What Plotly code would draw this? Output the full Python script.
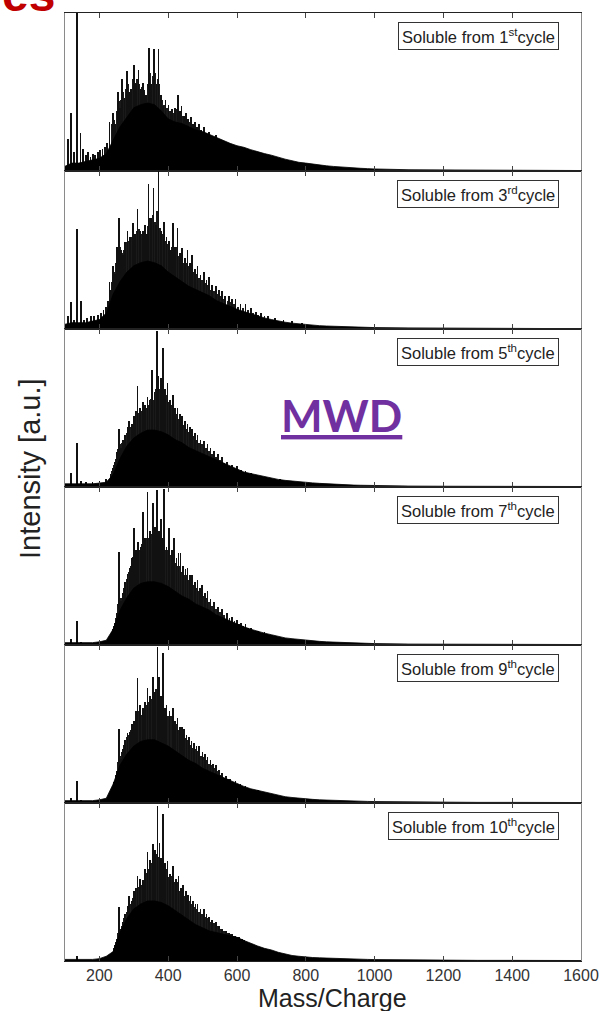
import plotly.graph_objects as go
from plotly.subplots import make_subplots

# ---------------- data ----------------
ENV_MZ = [100, 120, 140, 160, 180, 200, 220, 240, 260, 280, 300, 320, 340, 360, 380,
          400, 420, 440, 460, 480, 500, 520, 540, 560, 580, 600, 620, 640, 660, 680,
          700, 720, 740, 760, 780, 800, 820, 840, 860, 880, 900, 920, 940, 960, 980,
          1000, 1100, 1200, 1300, 1400, 1500, 1600]

ENV_1 = [3, 5, 5, 6, 7, 8, 11, 20, 28, 34, 40, 42, 43, 42, 38,
         33, 31, 30, 28, 26, 25, 23, 21, 19, 17.5, 16, 15, 13.5, 12, 11,
         10, 8.5, 7.5, 6.5, 5.5, 5, 4.3, 3.8, 3.3, 2.9, 2.5, 2.2, 1.9, 1.7, 1.5,
         1.3, 0.8, 0.6, 0.5, 0.4, 0.4, 0.3]
ENV_2 = [3, 4, 4, 4, 5, 6, 10, 22, 30, 36, 40, 42, 43, 42, 40,
         36, 33, 30, 27, 25, 23, 21, 18, 16, 14, 12.5, 11, 9.5, 8, 7,
         6, 5, 4.3, 3.7, 3.2, 2.8, 2.4, 2.1, 1.9, 1.7, 1.5, 1.3, 1.2, 1.1, 1.0,
         0.9, 0.7, 0.5, 0.4, 0.4, 0.3, 0.3]
ENV_3 = [2, 2, 2, 2, 2, 2.5, 3, 8, 18, 26, 31, 34, 36, 36, 35,
         33, 30, 28, 25, 23, 21, 19, 17, 15, 13, 11, 9.5, 8.5, 7.5, 6.5,
         5.5, 4.8, 4.2, 3.7, 3.3, 3, 2.6, 2.3, 2, 1.8, 1.6, 1.4, 1.2, 1.1, 1.0,
         0.9, 0.6, 0.5, 0.4, 0.4, 0.3, 0.3]
ENV_4 = [1.5, 1.5, 1.5, 1.5, 1.5, 2, 3, 10, 22, 30, 36, 39, 40, 40, 39,
         37, 34, 31, 29, 26, 24, 22, 19, 17, 15, 13, 11.5, 10, 8.5, 7.5,
         6.5, 5.5, 4.5, 4, 3.5, 3, 2.6, 2.3, 2, 1.8, 1.6, 1.4, 1.2, 1.1, 1.0,
         0.9, 0.6, 0.5, 0.4, 0.4, 0.3, 0.3]
ENV_5 = [1.5, 1.5, 1.5, 1.5, 1.5, 2, 3, 12, 24, 31, 36, 39, 40, 40, 38,
         36, 33, 30, 27, 25, 22, 20, 18, 16, 14, 12, 10.5, 9, 8, 7,
         6, 5, 4, 3.5, 3, 2.6, 2.3, 2, 1.8, 1.6, 1.4, 1.3, 1.2, 1.1, 1.0,
         0.9, 0.6, 0.5, 0.4, 0.4, 0.3, 0.3]
ENV_6 = [1, 1, 1, 1, 1, 1.5, 3, 6, 18, 27, 33, 36, 38, 38, 37,
         35, 32, 29, 26, 23, 21, 19, 18, 17, 16, 15, 13, 11, 9.5, 8,
         7, 5.5, 4.5, 3.5, 3, 2.5, 2.2, 2, 1.8, 1.6, 1.4, 1.3, 1.2, 1.1, 1.0,
         0.9, 0.6, 0.5, 0.4, 0.4, 0.3, 0.3]

# main (tall) peaks
PEAK_MZ_1 = [108, 118, 126, 134, 145, 152, 160, 167, 174, 181, 188, 195, 202, 209, 216, 223,
             229, 239, 246, 253, 260, 266, 273, 280, 287, 292, 301, 307, 314, 320, 326, 331,
             335, 345, 351, 359, 366, 372, 378, 384, 392, 401, 407, 412, 420, 429, 434, 439,
             445, 451, 458, 466, 472, 478, 484, 490, 497, 504, 511, 519, 527, 538, 547, 557,
             567, 577, 591, 606, 620, 634, 644, 660, 680, 700, 720, 745, 770, 800]
PEAK_H_1 = [20, 37, 12, 100, 24, 14, 10, 12, 9, 11, 10, 12, 13, 14, 15, 18,
            31, 37, 30, 50, 40, 58, 46, 63, 50, 52, 67, 55, 64, 52, 56, 50,
            48, 78, 55, 77, 55, 77, 48, 41, 45, 42, 38, 39, 40, 48, 38, 41,
            35, 37, 33, 34, 30, 31, 28, 30, 26, 28, 24, 25, 22, 23, 20, 19,
            17, 17, 15, 15, 13, 12, 12, 10, 9, 8, 7, 6, 5, 4]

PEAK_MZ_2 = [108, 118, 126, 134, 147, 155, 165, 175, 185, 195, 205, 212, 219, 225, 229, 234,
             239, 246, 251, 256, 262, 268, 275, 282, 289, 297, 304, 311, 318, 326, 333, 338,
             343, 350, 357, 364, 372, 380, 388, 395, 403, 408, 414, 420, 427, 434, 441, 448,
             456, 463, 470, 477, 485, 494, 504, 511, 519, 528, 538, 547, 557, 566, 577, 586,
             596, 610, 625, 640, 655, 670, 690, 710, 735, 760, 790]
PEAK_H_2 = [8, 17, 6, 63, 18, 6, 7, 8, 8, 9, 10, 12, 14, 18, 30, 25,
            40, 35, 52, 70, 50, 47, 55, 62, 58, 67, 60, 76, 62, 62, 66, 60,
            92, 70, 89, 66, 100, 62, 68, 58, 56, 50, 67, 52, 64, 48, 51, 45,
            50, 42, 47, 38, 40, 34, 36, 31, 33, 28, 27, 25, 24, 21, 21, 19,
            19, 16, 16, 13, 11, 10, 8, 7, 6, 5, 4]

PEAK_MZ_3 = [118, 134, 147, 160, 180, 200, 220, 232, 240, 246, 251, 256, 262, 268, 275, 282,
             287, 294, 300, 305, 311, 318, 326, 333, 340, 346, 353, 360, 367, 372, 378, 385,
             391, 398, 405, 413, 420, 427, 434, 441, 448, 456, 463, 470, 477, 485, 494, 504,
             514, 523, 533, 545, 557, 570, 586, 600, 612, 625, 640, 660, 680, 700, 725, 750, 780]
PEAK_H_3 = [9, 28, 4, 3, 3, 4, 5, 8, 12, 16, 22, 37, 25, 30, 33, 38,
            42, 40, 45, 48, 64, 50, 54, 52, 57, 55, 74, 60, 99, 70, 69, 88,
            62, 66, 55, 58, 50, 50, 46, 45, 42, 40, 38, 37, 34, 33, 30, 29,
            27, 25, 23, 21, 19, 16, 14, 13, 11, 10, 9, 7, 6, 5, 5, 4, 3]

PEAK_MZ_4 = [118, 134, 147, 230, 240, 246, 251, 256, 262, 268, 275, 282, 289, 295, 301, 307,
             313, 320, 326, 333, 340, 347, 355, 361, 367, 373, 378, 383, 388, 395, 403, 410,
             417, 424, 430, 436, 443, 450, 456, 463, 470, 477, 485, 492, 499, 506, 514, 523,
             533, 545, 557, 570, 586, 600, 612, 625, 640, 660, 680, 700, 725, 750, 780]
PEAK_H_4 = [4, 15, 2, 5, 10, 14, 20, 59, 28, 33, 40, 45, 49, 55, 74, 60,
            65, 62, 84, 68, 97, 72, 90, 75, 98, 72, 80, 68, 99, 62, 74, 60,
            68, 55, 58, 58, 50, 48, 49, 44, 44, 40, 41, 36, 38, 33, 34, 29,
            27, 24, 23, 20, 18, 16, 14, 13, 11, 9, 8, 6, 5, 4, 3]

PEAK_MZ_5 = [118, 134, 147, 230, 240, 246, 251, 256, 262, 268, 275, 282, 289, 295, 301, 306,
             311, 318, 326, 333, 340, 347, 355, 362, 369, 374, 380, 385, 390, 395, 404, 413,
             420, 427, 434, 441, 446, 453, 460, 468, 475, 482, 490, 500, 507, 514, 523, 530,
             538, 548, 557, 567, 580, 596, 610, 625, 640, 660, 680, 700, 725, 750]
PEAK_H_5 = [3, 14, 2, 5, 9, 14, 20, 47, 28, 34, 40, 44, 45, 50, 52, 58,
            79, 62, 60, 64, 73, 68, 80, 70, 99, 80, 68, 95, 60, 62, 58, 60,
            52, 54, 48, 48, 47, 43, 42, 39, 38, 36, 36, 32, 31, 29, 27, 25,
            24, 21, 19, 17, 15, 14, 12, 11, 9, 8, 6, 5, 4, 3]

PEAK_MZ_6 = [134, 240, 246, 251, 256, 262, 268, 275, 282, 287, 294, 300, 305, 311, 318, 326,
             333, 340, 347, 355, 362, 369, 375, 380, 385, 391, 398, 405, 415, 422, 430, 437,
             444, 451, 458, 465, 472, 479, 485, 494, 504, 511, 519, 528, 538, 547, 557, 567,
             577, 586, 596, 605, 615, 625, 640, 655, 670, 690, 710, 735, 760]
PEAK_H_6 = [3, 6, 10, 14, 34, 20, 25, 30, 35, 41, 38, 44, 46, 54, 52, 51,
            58, 69, 64, 74, 70, 98, 75, 65, 93, 62, 63, 55, 60, 52, 54, 46,
            48, 44, 42, 41, 38, 36, 36, 33, 33, 30, 28, 26, 25, 22, 20, 19,
            18, 17, 16, 15, 14, 12, 10, 9, 8, 6, 5, 4, 3]

# secondary (in-between) peaks
MINOR_MZ_1 = [235, 243, 250, 257, 263, 270, 277, 284, 290, 297, 304, 310, 317, 323, 329, 340,
              348, 355, 362, 369, 375, 381, 388, 396, 404, 410, 416, 425, 437, 442, 448, 455,
              462, 469, 475, 481, 487, 494, 501, 508, 515, 523, 532, 542, 552, 562, 572, 584,
              598, 613, 627, 652, 670, 690]
MINOR_H_1 = [30, 32, 38, 44, 45, 50, 52, 55, 48, 58, 56, 58, 55, 53, 51, 55,
             62, 60, 62, 58, 55, 45, 42, 40, 38, 36, 37, 39, 36, 35, 33, 33,
             31, 30, 29, 27, 27, 26, 25, 24, 23, 22, 21, 19, 18, 16, 15, 14,
             13, 12, 11, 9.5, 8.5, 7.5]
MINOR_MZ_2 = [236, 243, 249, 254, 259, 265, 272, 279, 286, 293, 300, 308, 315, 322, 330, 336,
              340, 347, 354, 361, 368, 376, 384, 392, 399, 406, 411, 417, 424, 431, 438, 445,
              452, 460, 467, 474, 481, 490, 499, 508, 515, 524, 533, 542, 552, 562, 572, 581,
              591, 603, 617, 632, 647, 662, 680, 700]
MINOR_H_2 = [30, 36, 42, 50, 52, 48, 50, 55, 56, 58, 60, 62, 63, 60, 62, 58,
             65, 70, 72, 68, 75, 64, 60, 56, 54, 50, 52, 50, 52, 46, 45, 42,
             42, 40, 39, 36, 35, 32, 31, 29, 28, 25, 24, 22, 21, 19, 18, 17,
             16, 14, 13, 12, 10, 9, 8, 6]
MINOR_MZ_3 = [236, 243, 249, 254, 259, 265, 272, 279, 285, 291, 297, 302, 308, 315, 322, 330,
              337, 343, 350, 357, 364, 370, 375, 382, 388, 395, 402, 409, 416, 423, 431, 438,
              445, 452, 460, 467, 474, 481, 490, 499, 509, 518, 528, 539, 551, 563, 578, 593,
              606, 618, 632, 650, 670]
MINOR_H_3 = [10, 14, 18, 24, 27, 28, 30, 34, 36, 38, 40, 42, 48, 47, 48, 49,
             50, 52, 56, 55, 62, 64, 62, 66, 60, 58, 54, 52, 48, 46, 43, 42,
             39, 37, 35, 34, 32, 30, 28, 27, 25, 23, 21, 19, 17, 15, 13, 12,
             10, 9, 8, 7, 6]
MINOR_MZ_4 = [236, 243, 249, 254, 259, 265, 272, 279, 286, 292, 298, 304, 310, 317, 323, 330,
              337, 344, 351, 358, 364, 370, 376, 381, 386, 392, 399, 406, 414, 421, 427, 433,
              440, 446, 453, 460, 466, 473, 481, 488, 496, 503, 510, 518, 528, 539, 551, 563,
              578, 593, 606, 618, 632, 650, 670]
MINOR_H_4 = [8, 12, 17, 26, 30, 30, 36, 42, 46, 50, 56, 58, 60, 60, 64, 64,
             68, 68, 70, 70, 74, 70, 68, 66, 70, 60, 60, 57, 56, 52, 50, 50,
             46, 44, 44, 41, 40, 38, 36, 34, 33, 31, 30, 27, 25, 23, 21, 19,
             17, 15, 13, 12, 11, 9, 7]
MINOR_MZ_5 = [236, 243, 249, 254, 259, 265, 272, 279, 286, 292, 298, 304, 309, 315, 322, 330,
              337, 344, 351, 358, 365, 372, 377, 383, 388, 393, 400, 409, 417, 424, 431, 438,
              444, 450, 457, 464, 472, 479, 486, 495, 504, 511, 519, 527, 534, 543, 553, 562,
              574, 588, 603, 618, 632, 650, 670]
MINOR_H_5 = [9, 13, 18, 26, 30, 32, 37, 42, 43, 46, 48, 52, 56, 58, 56, 58,
             62, 64, 66, 68, 72, 70, 66, 70, 58, 58, 55, 55, 50, 50, 46, 45,
             44, 41, 40, 37, 35, 34, 33, 30, 29, 27, 25, 24, 22, 20, 18, 16,
             15, 13, 12, 10, 9, 8, 6]
MINOR_MZ_6 = [243, 249, 254, 259, 265, 272, 279, 285, 291, 297, 303, 308, 315, 322, 330, 337,
              344, 351, 358, 366, 372, 378, 383, 388, 395, 402, 410, 419, 426, 434, 441, 448,
              455, 462, 469, 476, 482, 490, 499, 508, 515, 524, 533, 543, 552, 562, 572, 582,
              591, 600, 610, 620, 632, 648, 662, 680]
MINOR_H_6 = [8, 12, 18, 20, 22, 27, 31, 34, 36, 40, 42, 46, 47, 48, 50, 56,
             58, 62, 64, 68, 66, 62, 66, 58, 58, 53, 54, 50, 50, 44, 44, 41,
             40, 38, 36, 34, 33, 31, 30, 28, 27, 25, 24, 22, 20, 19, 18, 17,
             16, 15, 14, 13, 11, 10, 9, 7]

ENVELOPES = [ENV_1, ENV_2, ENV_3, ENV_4, ENV_5, ENV_6]
PEAK_MZS = [PEAK_MZ_1, PEAK_MZ_2, PEAK_MZ_3, PEAK_MZ_4, PEAK_MZ_5, PEAK_MZ_6]
PEAK_HS = [PEAK_H_1, PEAK_H_2, PEAK_H_3, PEAK_H_4, PEAK_H_5, PEAK_H_6]
MINOR_MZS = [MINOR_MZ_1, MINOR_MZ_2, MINOR_MZ_3, MINOR_MZ_4, MINOR_MZ_5, MINOR_MZ_6]
MINOR_HS = [MINOR_H_1, MINOR_H_2, MINOR_H_3, MINOR_H_4, MINOR_H_5, MINOR_H_6]
PANEL_LABELS = ["Soluble from 1<sup>st</sup>cycle", "Soluble from 3<sup>rd</sup>cycle",
                "Soluble from 5<sup>th</sup>cycle", "Soluble from 7<sup>th</sup>cycle",
                "Soluble from 9<sup>th</sup>cycle", "Soluble from 10<sup>th</sup>cycle"]
X_TICKS = [200, 400, 600, 800, 1000, 1200, 1400, 1600]

# ---------------- figure ----------------
N = 6
fig = make_subplots(rows=N, cols=1, shared_xaxes=True, vertical_spacing=0)
FONT = "Liberation Sans, Arial, sans-serif"

for i in range(N):
    r = i + 1
    fig.add_trace(go.Scatter(x=ENV_MZ, y=ENVELOPES[i], mode="lines", fill="tozeroy",
                             line=dict(color="black", width=0.8), fillcolor="black",
                             hoverinfo="skip", showlegend=False), row=r, col=1)
    fig.add_trace(go.Bar(x=MINOR_MZS[i], y=MINOR_HS[i], width=2.0,
                         marker=dict(color="#1a1a1a", line=dict(width=0)),
                         showlegend=False), row=r, col=1)
    fig.add_trace(go.Bar(x=PEAK_MZS[i], y=PEAK_HS[i], width=2.2,
                         marker=dict(color="#111111", line=dict(width=0)),
                         showlegend=False), row=r, col=1)
    fig.update_yaxes(range=[0, 100], showticklabels=False, ticks="", showgrid=False,
                     zeroline=False, showline=True, linecolor="#8a8a8a", linewidth=1,
                     mirror=True, automargin=False, row=r, col=1)
    fig.update_xaxes(range=[100, 1600], tickvals=X_TICKS, ticks="inside", ticklen=5,
                     tickcolor="#444", showgrid=False, zeroline=False, showline=True,
                     linecolor="#222", linewidth=1.2, mirror="ticks", automargin=False,
                     showticklabels=(r == N), row=r, col=1)
    fig.add_annotation(text=PANEL_LABELS[i], xref=f"x{'' if r == 1 else r} domain",
                       yref=f"y{'' if r == 1 else r} domain", x=0.957, y=0.94,
                       xanchor="right", yanchor="top", showarrow=False,
                       font=dict(family=FONT, size=16.5, color="#222"),
                       bgcolor="white", bordercolor="#333", borderwidth=1, borderpad=3)

fig.update_xaxes(tickfont=dict(family=FONT, size=16, color="#333"))

fig.add_annotation(text="Mass/Charge", xref="paper", yref="paper", x=0.519, y=-0.0395,
                   xanchor="center", yanchor="middle", showarrow=False,
                   font=dict(family=FONT, size=25, color="#222"))
fig.add_annotation(text="Intensity [a.u.]", xref="paper", yref="paper", x=-0.068, y=0.52,
                   xanchor="center", yanchor="middle", textangle=-90, showarrow=False,
                   font=dict(family=FONT, size=29, color="#222"))
fig.add_annotation(text="<b>es</b>", xref="paper", yref="paper", x=-0.126, y=0.989,
                   xanchor="left", yanchor="bottom", showarrow=False,
                   font=dict(family=FONT, size=48, color="#c00000"))
fig.add_annotation(text="<b><u>MWD</u></b>", xref="paper", yref="paper", x=0.535, y=0.576,
                   xanchor="center", yanchor="middle", showarrow=False,
                   font=dict(family="Lato, Open Sans, sans-serif", size=44, color="#7030a0"))

fig.update_layout(width=600, height=1011, margin=dict(l=65, r=19, t=13, b=50),
                  paper_bgcolor="white", plot_bgcolor="white", barmode="overlay",
                  bargap=0, showlegend=False)

fig.write_html("out.html")
